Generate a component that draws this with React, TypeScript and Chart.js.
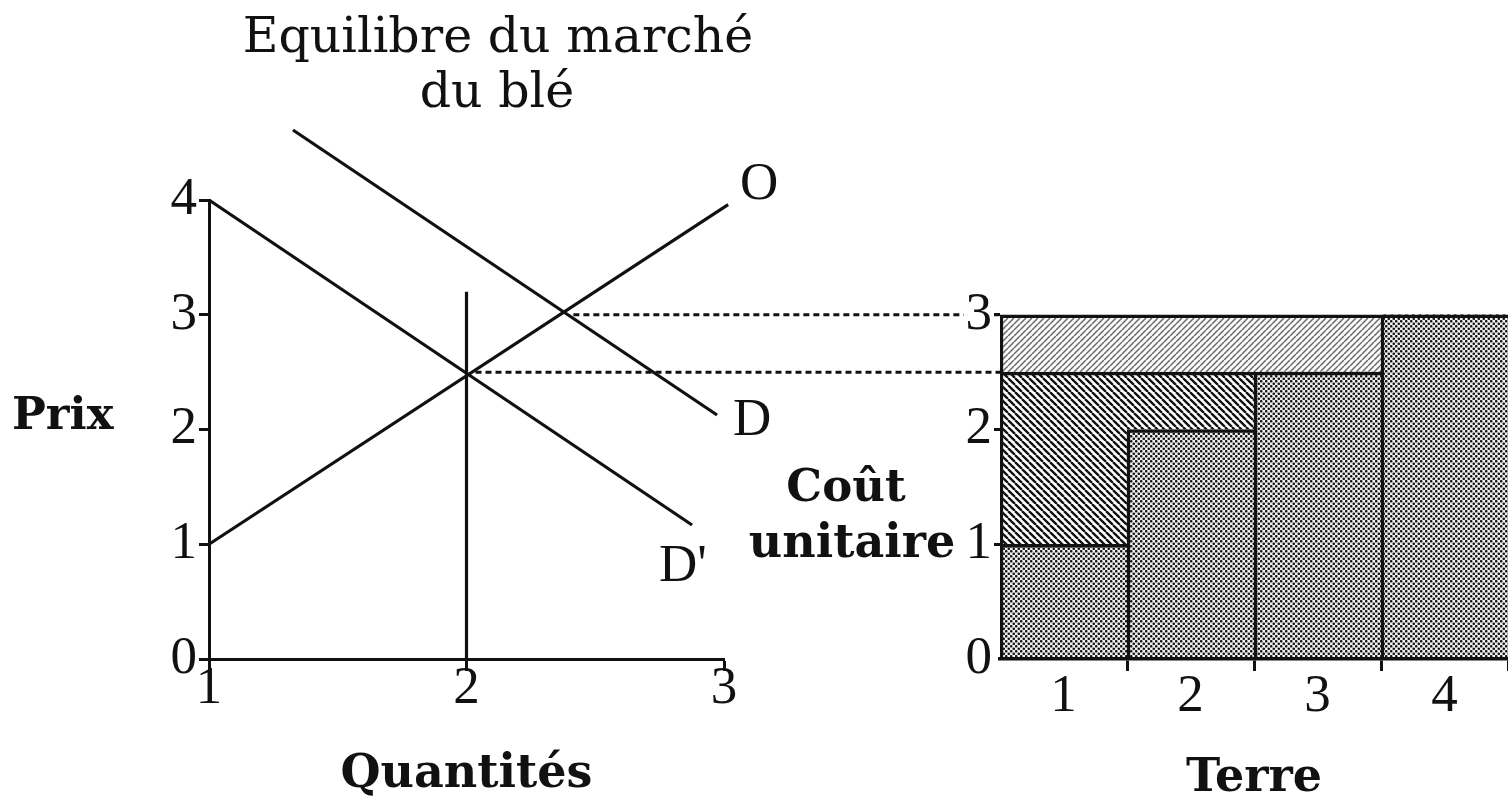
import React, { useEffect, useRef } from 'react';
import { Chart, registerables } from 'chart.js';

Chart.register(...registerables);

// ---------- texts ----------
const titleLines = ['Equilibre du marché', 'du blé'];
const priceAxisTitle = 'Prix';
const quantityAxisTitle = 'Quantités';
const costAxisTitleLines = ['Coût', 'unitaire'];
const landAxisTitle = 'Terre';
const curveNames = ['O', 'D', "D'"];

// ---------- left chart: market for wheat ----------
const quantityTicks = [1, 2, 3];
const priceTicks = [0, 1, 2, 3, 4];
const offreX = [1, 3.016];
const offreY = [1, 3.96];
const demandeX = [1.326, 2.973];
const demandeY = [4.61, 2.126];
const demandeBisX = [1, 2.876];
const demandeBisY = [4, 1.168];
const quantiteEqX = [2, 2];
const quantiteEqY = [0, 3.2];
// dotted price links towards the land chart
const priceLinkLevels = [3, 2.5];
const priceLinkStartX = [2.38, 2];

// ---------- right chart: land ----------
const terres = ['1', '2', '3', '4'];
const costTicks = [0, 1, 2, 3];
const coutUnitaire = [1, 2, 2.5, 3];
const renteAvant = [1.5, 0.5, 0, 0];
const renteHausse = [0.5, 0.5, 0.5, 0];

const INK = '#111111';

function makeStipple(): CanvasPattern {
  const c = document.createElement('canvas');
  c.width = 5;
  c.height = 5;
  const g = c.getContext('2d') as CanvasRenderingContext2D;
  g.fillStyle = '#f0f0f0';
  g.fillRect(0, 0, 5, 5);
  g.fillStyle = '#161616';
  [[1.25, 1.25], [3.75, 3.75]].forEach(([cx, cy]) => {
    g.beginPath();
    g.arc(cx, cy, 1.3, 0, Math.PI * 2);
    g.fill();
  });
  return g.createPattern(c, 'repeat') as CanvasPattern;
}

function makeHatch(size: number, back: boolean, width: number, color: string, bg: string): CanvasPattern {
  const c = document.createElement('canvas');
  c.width = size;
  c.height = size;
  const g = c.getContext('2d') as CanvasRenderingContext2D;
  g.fillStyle = bg;
  g.fillRect(0, 0, size, size);
  g.strokeStyle = color;
  g.lineWidth = width;
  g.beginPath();
  for (let k = -1; k <= 1; k++) {
    if (back) {
      g.moveTo(k * size, 0);
      g.lineTo(k * size + size, size);
    } else {
      g.moveTo(k * size, size);
      g.lineTo(k * size + size, 0);
    }
  }
  g.stroke();
  return g.createPattern(c, 'repeat') as CanvasPattern;
}

const toPoints = (xs: number[], ys: number[]) => xs.map((x, i) => ({ x, y: ys[i] }));

const tickFont = { family: 'Liberation Serif', size: 53, lineHeight: 1 };
const boldFont = { family: 'DejaVu Serif', size: 46, weight: 'bold' as const, lineHeight: 1 };

const placeRightAxis = {
  id: 'placeRightAxis',
  afterLayout(chart: any) {
    const xR = chart.scales.xR;
    const yR = chart.scales.yR;
    yR.right = xR.left;
    yR.left = xR.left - 60;
    yR.width = 60;
  },
};

const priceLinks = {
  id: 'priceLinks',
  afterDatasetsDraw(chart: any) {
    const { ctx } = chart;
    const xL = chart.scales.xL;
    const xR = chart.scales.xR;
    const y = chart.scales.y;
    ctx.save();
    ctx.strokeStyle = INK;
    ctx.lineWidth = 3;
    ctx.setLineDash([6, 4]);
    priceLinkLevels.forEach((p, i) => {
      const py = y.getPixelForValue(p);
      ctx.beginPath();
      ctx.moveTo(xL.getPixelForValue(priceLinkStartX[i]) + 9, py);
      ctx.lineTo(xR.left, py);
      ctx.stroke();
    });
    ctx.restore();
  },
};

const annotations = {
  id: 'annotations',
  afterDraw(chart: any) {
    const { ctx } = chart;
    const xL = chart.scales.xL;
    const y = chart.scales.y;
    const xR = chart.scales.xR;
    ctx.save();
    ctx.fillStyle = INK;
    ctx.textBaseline = 'alphabetic';

    // title
    ctx.font = '49px "DejaVu Serif"';
    ctx.textAlign = 'center';
    ctx.fillText(titleLines[0], 498, 52);
    ctx.fillText(titleLines[1], 497, 107);

    // curve names at the end of each curve
    ctx.font = '53px "Liberation Serif"';
    ctx.textAlign = 'left';
    const ends = [
      [offreX[1], offreY[1], 12, -6],
      [demandeX[1], demandeY[1], 16, 20],
      [demandeBisX[1], demandeBisY[1], -33, 56],
    ];
    ends.forEach(([vx, vy, dx, dy], i) => {
      ctx.fillText(curveNames[i], xL.getPixelForValue(vx) + dx, y.getPixelForValue(vy) + dy);
    });

    // vertical axis titles (horizontal text)
    ctx.font = 'bold 45px "DejaVu Serif"';
    ctx.textAlign = 'left';
    ctx.fillText(priceAxisTitle, 12, y.getPixelForValue(2) - 1);
    ctx.textAlign = 'center';
    const cx = xR.left - 148;
    ctx.fillText(costAxisTitleLines[0], cx - 6, y.getPixelForValue(1) - 43);
    ctx.font = 'bold 46px "DejaVu Serif"';
    ctx.fillText(costAxisTitleLines[1], cx, y.getPixelForValue(1) + 13);
    ctx.restore();
  },
};

export default function App() {
  const canvasRef = useRef<HTMLCanvasElement | null>(null);

  useEffect(() => {
    const canvas = canvasRef.current;
    if (!canvas) return;
    const stipple = makeStipple();
    const hatchBack = makeHatch(7, true, 2.3, '#111', '#ffffff');
    const hatchFwd = makeHatch(6, false, 1.5, '#6a6a6a', '#fbfbfb');

    const lineStyle = {
      type: 'line' as const,
      xAxisID: 'xL',
      yAxisID: 'y',
      borderColor: INK,
      borderWidth: 3.2,
      pointRadius: 0,
      fill: false,
      tension: 0,
      clip: false as const,
    };
    const barStyle = {
      type: 'bar' as const,
      xAxisID: 'xR',
      yAxisID: 'yR',
      borderColor: INK,
      borderSkipped: false as const,
      barPercentage: 1,
      categoryPercentage: 1,
      grouped: false,
      stack: 'terre',
    };
    const EDGE = 3.5;
    const bandBorder = (c: any) => ({ left: c.dataIndex === 0 ? EDGE : 0, top: EDGE, right: 0, bottom: 0 });

    const chart = new Chart(canvas, {
      type: 'bar',
      data: {
        labels: terres,
        datasets: [
          { ...lineStyle, label: curveNames[0], data: toPoints(offreX, offreY) },
          { ...lineStyle, label: curveNames[1], data: toPoints(demandeX, demandeY) },
          { ...lineStyle, label: curveNames[2], data: toPoints(demandeBisX, demandeBisY) },
          { ...lineStyle, label: 'Q*', data: toPoints(quantiteEqX, quantiteEqY) },
          {
            ...barStyle,
            label: 'Coût unitaire',
            data: coutUnitaire,
            backgroundColor: stipple,
            borderWidth: { left: EDGE, top: EDGE, right: 0, bottom: 0 },
          },
          { ...barStyle, label: 'Rente', data: renteAvant, backgroundColor: hatchBack, borderWidth: bandBorder },
          { ...barStyle, label: 'Hausse de la rente', data: renteHausse, backgroundColor: hatchFwd, borderWidth: bandBorder },
        ] as any,
      },
      options: {
        responsive: false,
        maintainAspectRatio: false,
        animation: false,
        devicePixelRatio: 1,
        events: [],
        layout: { padding: { top: 200, bottom: 0, left: 0, right: 0 } },
        plugins: {
          legend: { display: false },
          title: { display: false },
          tooltip: { enabled: false },
        },
        scales: {
          y: {
            type: 'linear',
            position: 'left',
            min: 0,
            max: 4,
            afterBuildTicks: (s: any) => {
              s.ticks = priceTicks.map((v) => ({ value: v }));
            },
            afterFit: (s: any) => {
              s.width = 209;
            },
            grid: { drawOnChartArea: false, tickLength: 10, tickWidth: 3, color: INK },
            border: { color: INK, width: 3 },
            ticks: { color: INK, font: tickFont, padding: 2 },
          },
          yR: {
            type: 'linear',
            position: 'left',
            min: 0,
            max: 4,
            stacked: true,
            afterBuildTicks: (s: any) => {
              s.ticks = costTicks.map((v) => ({ value: v }));
            },
            afterFit: (s: any) => {
              s.width = 0;
            },
            grid: {
              drawOnChartArea: false,
              tickLength: 10,
              tickWidth: 3,
              color: INK,
              tickColor: (c: any) => (c.index === 0 ? 'rgba(0,0,0,0)' : INK),
            },
            border: { display: false },
            ticks: {
              color: INK,
              font: tickFont,
              padding: -2,
              showLabelBackdrop: true,
              backdropColor: '#ffffff',
              backdropPadding: { left: 2, right: 2, top: 0, bottom: 0 },
              z: 1,
            },
          },
          xL: {
            type: 'linear',
            position: 'bottom',
            stack: 'bas',
            stackWeight: 515,
            weight: 1,
            min: 1,
            max: 3,
            offset: false,
            afterBuildTicks: (s: any) => {
              s.ticks = quantityTicks.map((v) => ({ value: v }));
            },
            afterFit: (s: any) => {
              s.height = 147;
              s.paddingLeft = 0;
              s.paddingRight = 0;
            },
            grid: { offset: false, drawOnChartArea: false, tickLength: 12, tickWidth: 3, color: INK },
            border: { color: INK, width: 3 },
            ticks: { color: INK, font: tickFont, padding: -8, maxRotation: 0 },
            title: {
              display: true,
              text: quantityAxisTitle,
              color: INK,
              font: boldFont,
              padding: { top: 0, bottom: 8 },
            },
          },
          xGap: {
            type: 'linear',
            display: false,
            position: 'bottom',
            stack: 'bas',
            stackWeight: 276,
            weight: 2,
            offset: false,
            grid: { offset: false },
            afterFit: (s: any) => {
              s.height = 147;
              s.paddingLeft = 0;
              s.paddingRight = 0;
            },
          },
          xR: {
            type: 'category',
            labels: terres,
            position: 'bottom',
            stack: 'bas',
            stackWeight: 508,
            weight: 3,
            stacked: true,
            offset: true,
            afterFit: (s: any) => {
              s.height = 147;
              s.paddingLeft = 0;
              s.paddingRight = 0;
            },
            grid: {
              offset: true,
              drawOnChartArea: false,
              tickLength: 12,
              tickWidth: 3,
              color: INK,
              tickColor: (c: any) => (c.index === 0 || c.index >= terres.length ? 'rgba(0,0,0,0)' : INK),
            },
            border: { color: INK, width: 3.5, z: 1 },
            ticks: { color: INK, font: tickFont, padding: 0, maxRotation: 0 },
            title: {
              display: true,
              text: landAxisTitle,
              color: INK,
              font: boldFont,
              padding: { top: 0, bottom: 4 },
            },
          },
        } as any,
      },
      plugins: [placeRightAxis, priceLinks, annotations],
    });
    return () => chart.destroy();
  }, []);

  return (
    <div style={{ position: 'fixed', left: 0, top: 0, width: 1508, height: 806, background: '#ffffff', overflow: 'hidden' }}>
      <canvas ref={canvasRef} width={1508} height={806} style={{ display: 'block' }} />
    </div>
  );
}
